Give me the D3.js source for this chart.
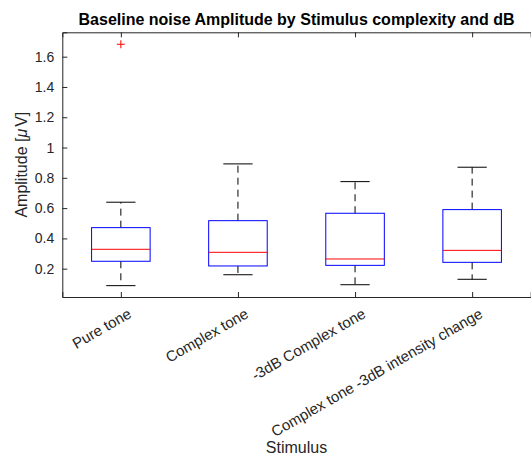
<!DOCTYPE html>
<html>
<head>
<meta charset="utf-8">
<script src="https://cdn.jsdelivr.net/npm/d3@7"></script>
<style>
  body { margin: 0; background: #fff; }
  text { font-family: "Liberation Sans", Arial, Helvetica, sans-serif; }
</style>
</head>
<body>
<div id="chart"></div>
<script>
// boxplot summary values
const categories = ["Pure tone", "Complex tone", "-3dB Complex tone", "Complex tone -3dB intensity change"];
const lowerWhisker = [0.088, 0.160, 0.094, 0.130];
const q1 = [0.249, 0.218, 0.222, 0.242];
const medians = [0.328, 0.308, 0.264, 0.321];
const q3 = [0.471, 0.517, 0.566, 0.590];
const upperWhisker = [0.639, 0.892, 0.775, 0.870];
const outliers = [[1.682], [], [], []];
const yTicks = [0.2, 0.4, 0.6, 0.8, 1, 1.2, 1.4, 1.6];

const W = 531, H = 461;
const margin = { top: 32.3, right: 0.3, bottom: 164, left: 62.3 };
const width = W - margin.left - margin.right;
const height = H - margin.top - margin.bottom;
const axisColor = "#262626";

const svg = d3.select("#chart").append("svg")
  .attr("width", W).attr("height", H);

const g = svg.append("g")
  .attr("transform", "translate(" + margin.left + "," + margin.top + ")");

const x = d3.scaleLinear().domain([0.5, 4.5]).range([0, width]);
const y = d3.scaleLinear().domain([0.013, 1.761]).range([height, 0]);

const boxHalf = x(1.25) - x(1);
const capHalf = x(1.125) - x(1);

// axes (box on, ticks inside)
const yAxis = g.append("g")
  .call(d3.axisLeft(y).tickValues(yTicks).tickSize(-5).tickPadding(8).tickFormat(d3.format("")));
const xAxis = g.append("g")
  .attr("transform", "translate(0," + height + ")")
  .call(d3.axisBottom(x).tickValues([1, 2, 3, 4]).tickSize(-5).tickFormat(""));
const xTop = g.append("g")
  .call(d3.axisTop(x).tickValues([1, 2, 3, 4]).tickSize(-5).tickFormat(""));

[yAxis, xAxis, xTop].forEach(a => {
  a.select(".domain").attr("stroke", axisColor).attr("stroke-width", 1);
  a.selectAll(".tick line").attr("stroke", axisColor);
});
yAxis.selectAll("text").attr("fill", axisColor).style("font-size", "14px");

// rotated category labels
g.append("g").selectAll("text")
  .data(categories)
  .enter().append("text")
  .attr("transform", (d, i) => "translate(" + (x(i + 1) + 6) + "," + (height + 10) + ")rotate(-30)")
  .attr("text-anchor", "end")
  .attr("dy", "0.75em")
  .attr("fill", axisColor)
  .style("font-size", "15px")
  .text(d => d);

const boxes = g.append("g").selectAll("g")
  .data(categories)
  .enter().append("g");

// whiskers
boxes.append("line")
  .attr("x1", (d, i) => x(i + 1)).attr("x2", (d, i) => x(i + 1))
  .attr("y1", (d, i) => y(q3[i])).attr("y2", (d, i) => y(upperWhisker[i]))
  .attr("stroke", "#000").attr("stroke-dasharray", "7,5");
boxes.append("line")
  .attr("x1", (d, i) => x(i + 1)).attr("x2", (d, i) => x(i + 1))
  .attr("y1", (d, i) => y(q1[i])).attr("y2", (d, i) => y(lowerWhisker[i]))
  .attr("stroke", "#000").attr("stroke-dasharray", "7,5");

// caps
boxes.append("line")
  .attr("x1", (d, i) => x(i + 1) - capHalf).attr("x2", (d, i) => x(i + 1) + capHalf)
  .attr("y1", (d, i) => y(upperWhisker[i])).attr("y2", (d, i) => y(upperWhisker[i]))
  .attr("stroke", "#000");
boxes.append("line")
  .attr("x1", (d, i) => x(i + 1) - capHalf).attr("x2", (d, i) => x(i + 1) + capHalf)
  .attr("y1", (d, i) => y(lowerWhisker[i])).attr("y2", (d, i) => y(lowerWhisker[i]))
  .attr("stroke", "#000");

// box
boxes.append("rect")
  .attr("x", (d, i) => x(i + 1) - boxHalf)
  .attr("y", (d, i) => y(q3[i]))
  .attr("width", boxHalf * 2)
  .attr("height", (d, i) => y(q1[i]) - y(q3[i]))
  .attr("fill", "none").attr("stroke", "#0000ff");

// median
boxes.append("line")
  .attr("x1", (d, i) => x(i + 1) - boxHalf).attr("x2", (d, i) => x(i + 1) + boxHalf)
  .attr("y1", (d, i) => y(medians[i])).attr("y2", (d, i) => y(medians[i]))
  .attr("stroke", "#ff0000");

// outliers as red plus marks
boxes.each(function (d, i) {
  d3.select(this).selectAll("path.out")
    .data(outliers[i])
    .enter().append("path")
    .attr("class", "out")
    .attr("d", v => "M" + (x(i + 1) - 4) + "," + y(v) + "h8M" + x(i + 1) + "," + (y(v) - 4) + "v8")
    .attr("stroke", "#ff0000").attr("fill", "none");
});

// title and axis labels
svg.append("text")
  .attr("x", margin.left + width / 2).attr("y", 25)
  .attr("text-anchor", "middle")
  .style("font-size", "16px").style("font-weight", "bold")
  .attr("fill", "#000")
  .text("Baseline noise Amplitude by Stimulus complexity and dB");

svg.append("text")
  .attr("x", margin.left + width / 2).attr("y", 453)
  .attr("text-anchor", "middle")
  .style("font-size", "16px")
  .attr("fill", axisColor)
  .text("Stimulus");

const yl = svg.append("text")
  .attr("transform", "translate(27," + (margin.top + height / 2) + ")rotate(-90)")
  .attr("text-anchor", "middle")
  .style("font-size", "16px")
  .attr("fill", axisColor);
yl.append("tspan").text("Amplitude [");
yl.append("tspan").style("font-style", "italic").text("\u03BC");
yl.append("tspan").attr("dx", 2).text("V]");
</script>
</body>
</html>
